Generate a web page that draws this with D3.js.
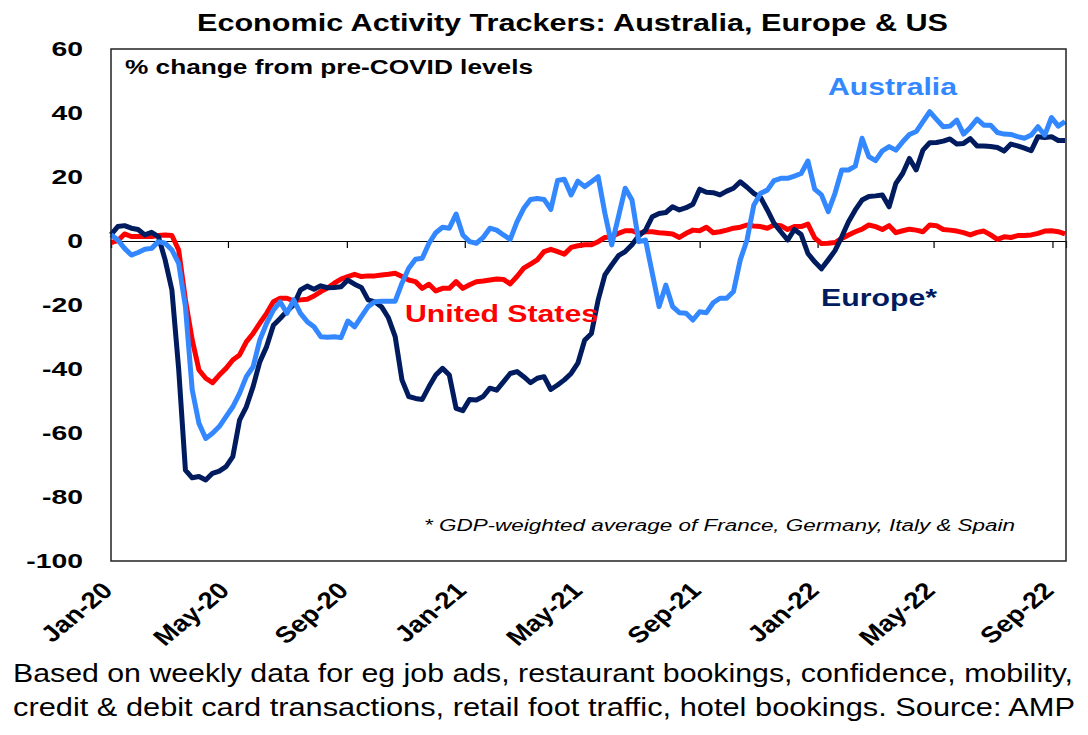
<!DOCTYPE html>
<html>
<head>
<meta charset="utf-8">
<script src="https://cdn.jsdelivr.net/npm/d3@7"></script>
<style>
  body { margin: 0; background: #fff; }
  svg { display: block; font-family: "Liberation Sans", Arial, sans-serif; }
</style>
</head>
<body>
<svg id="chart" width="1088" height="735"></svg>
<script>
// weekly readings, first week starting 1 Jan 2020
var firstWeek = new Date(2020, 0, 1);

var australia = [2, 0.3, -2.3, -4.4, -3.6, -2.6, -2.3, -0.2, -0.7, -2.8,
  -7, -20.5, -46.5, -57, -61.7, -60.1, -58, -54.9, -51.8, -47.6,
  -42.4, -39.3, -30.9, -25.7, -21.6, -19, -22.6, -18.4, -22.6, -25.2,
  -26.8, -29.9, -30.1, -29.9, -30.2, -25, -26.8, -23.6, -20.5, -19,
  -18.8, -18.8, -18.8, -13.2, -8.5, -5.7, -5.4, -0.7, 2.6, 4.3,
  4, 8.4, 1.9, -0.2, -0.7, 1.1, 4, 3.4, 1.9, 0.5,
  6, 10.2, 13, 13.3, 13, 9.9, 18.9, 19.3, 14.4, 18.7,
  17, 18.5, 20.1, 8.6, -1.2, 7.6, 16.5, 12.8, -0.2, 0.3,
  -10.1, -20.5, -13.8, -20.5, -22.4, -22.6, -24.7, -22.1, -22.4, -19.3,
  -17.9, -17.9, -15.8, -5.9, 0.3, 11.2, 14.9, 15.9, 18.9, 19.6,
  19.6, 20.3, 21.1, 25, 16.2, 14.4, 9.2, 14.9, 22.2, 22.2,
  23.4, 32.1, 26.4, 25.1, 28.2, 29.5, 28.4, 31, 33.3, 34.2,
  37.3, 40.4, 38, 35.7, 35.9, 37.8, 33.4, 35.5, 38.1, 36.2,
  36.2, 33.9, 33.4, 33.3, 32.6, 32.1, 33.1, 35.7, 33.1, 38.6,
  35.9, 37.3];

var europe = [2, 4.5, 4.8, 4, 3.6, 1.9, 2.7, 1.4, -5.9, -15.3,
  -40, -71.6, -74, -73.6, -74.7, -72.6, -71.9, -70.5, -67.4, -56,
  -51.8, -45.5, -37.7, -33, -26.3, -24.2, -21.9, -20, -15.3, -14.1,
  -15.1, -14, -14.6, -14.5, -14.3, -12.2, -13.5, -14.5, -18.4, -19,
  -20.6, -24, -29.9, -43.4, -48.6, -49.2, -49.5, -45.5, -41.9, -39.8,
  -41.9, -52.3, -53, -49.5, -49.7, -48.6, -46, -46.6, -44, -41.4,
  -40.8, -42.4, -44.3, -42.9, -42.4, -46.4, -45, -43.4, -41.4, -38.2,
  -31, -28.9, -18.4, -10.6, -7.5, -4.6, -3.3, -1.2, 1.6, 3.4,
  7.6, 8.6, 8.9, 10.7, 9.7, 10.4, 11.5, 16.2, 15.2, 15.1,
  14.4, 15.6, 16.5, 18.5, 16.8, 14.9, 13.6, 9.7, 5.5, 2.9,
  0.3, 3.6, 2, -3.9, -6.5, -8.7, -5.9, -3, 1.3, 6,
  9.7, 12.8, 13.9, 14.1, 14.4, 10.7, 18, 21.1, 25.8, 22.2,
  28.4, 30.7, 30.8, 31.2, 31.9, 30.3, 30.5, 32, 29.7, 29.7,
  29.5, 29.2, 28.1, 30.3, 29.7, 29, 28.2, 32.6, 32.3, 32.6,
  31.4, 31.4];

var unitedStates = [-0.5, 0.1, 2.2, 1.4, 1.4, 1.4, 1.4, 1.7, 1.9, 1.7,
  -2.8, -18.4, -30.9, -40.3, -42.9, -44.3, -41.9, -39.8, -37.2, -35.6,
  -31.5, -28.9, -25.7, -22.6, -19, -17.9, -17.9, -18.7, -18.4, -18.2,
  -17.2, -15.8, -14.7, -13.2, -11.9, -11.1, -10.4, -11.1, -10.9, -10.9,
  -10.6, -10.4, -10.1, -11.1, -12.2, -12.7, -14.8, -13.5, -15.6, -14.8,
  -14.8, -12.7, -14.8, -13.7, -12.7, -12.5, -12.2, -11.9, -12, -13.4,
  -11.1, -8.5, -7.2, -5.9, -3.3, -2.6, -3.3, -4.1, -2, -1.5,
  -1.2, -1.2, -0.2, 1.1, 1.3, 2.4, 3.2, 3.2, 2.4, 2.9,
  2.9, 2.6, 2.4, 2.2, 1.1, 2.4, 3.4, 3.2, 4.3, 2.6,
  2.9, 3.4, 4, 4.3, 5, 4.7, 4.5, 4, 5, 4.8,
  3.6, 4.5, 4.5, 5.3, 1, -0.8, -0.7, -0.5, 0.8, 1.9,
  2.9, 3.7, 5, 4.5, 3.6, 4.8, 2.6, 3.2, 3.7, 3.4,
  2.9, 5, 4.8, 3.6, 3.4, 3.1, 2.6, 1.9, 2.7, 3.1,
  1.9, 0.5, 1.3, 1.1, 1.7, 1.7, 1.9, 2.4, 3.1, 3.2,
  2.9, 2.2];

var yTicks = [60, 40, 20, 0, -20, -40, -60, -80, -100];
var xTicks = ["2020-01-01", "2020-05-01", "2020-09-01", "2021-01-01", "2021-05-01",
  "2021-09-01", "2022-01-01", "2022-05-01", "2022-09-01"];

var weeks = d3.range(australia.length).map(function (i) {
    return d3.timeDay.offset(firstWeek, 7 * i);
});

var svg = d3.select("#chart");
var plotLeft = 111, plotRight = 1066, plotTop = 49, plotBottom = 561;

var x = d3.scaleTime()
    .domain([firstWeek, new Date(2022, 8, 15)])
    .range([plotLeft, plotRight]);
var y = d3.scaleLinear().domain([-100, 60]).range([plotBottom, plotTop]);
var parse = d3.timeParse("%Y-%m-%d");
var fmt = d3.timeFormat("%b-%y");

// title
svg.append("text")
    .attr("x", 197).attr("y", 30.5)
    .attr("font-size", 23).attr("font-weight", "bold")
    .attr("textLength", 751).attr("lengthAdjust", "spacingAndGlyphs")
    .text("Economic Activity Trackers: Australia, Europe & US");

// y labels (stretched sideways like the original)
svg.append("g")
    .attr("transform", "translate(83,0) scale(1.35,1)")
    .selectAll("text")
    .data(yTicks)
    .join("text")
    .attr("x", 0)
    .attr("y", function (d) { return y(d) + 7.5; })
    .attr("text-anchor", "end")
    .attr("font-size", 21).attr("font-weight", "bold")
    .text(function (d) { return d; });

// zero line with ticks
var zeroAxis = d3.axisBottom(x)
    .tickValues(xTicks.map(parse))
    .tickSize(7)
    .tickFormat("");
var za = svg.append("g")
    .attr("transform", "translate(0," + y(0) + ")")
    .call(zeroAxis);
za.select(".domain").attr("stroke", "#000").attr("stroke-width", 1.2);
za.selectAll(".tick line").attr("stroke", "#000").attr("stroke-width", 1.2);

// x labels
svg.append("g").selectAll("text")
    .data(xTicks.map(parse))
    .join("text")
    .attr("text-anchor", "end")
    .attr("font-size", 23).attr("font-weight", "bold")
    .attr("transform", function (d) {
        return "translate(" + (x(d) + 3) + ",592) scale(1.2,1) rotate(-45)";
    })
    .text(function (d) { return fmt(d); });

// series
var line = d3.line()
    .x(function (d, i) { return x(weeks[i]); })
    .y(function (d) { return y(d); });

var series = [
    { values: unitedStates, color: "#FF0000" },
    { values: europe, color: "#001C5F" },
    { values: australia, color: "#3388FF" }
];
svg.append("g").selectAll("path")
    .data(series)
    .join("path")
    .attr("d", function (s) { return line(s.values); })
    .attr("fill", "none")
    .attr("stroke", function (s) { return s.color; })
    .attr("stroke-width", 5)
    .attr("stroke-linejoin", "round");

// frame
svg.append("rect")
    .attr("x", plotLeft).attr("y", plotTop)
    .attr("width", plotRight - plotLeft).attr("height", plotBottom - plotTop)
    .attr("fill", "none").attr("stroke", "#222").attr("stroke-width", 1.5);

// labels in plot
svg.append("text")
    .attr("x", 125).attr("y", 74)
    .attr("font-size", 20).attr("font-weight", "bold")
    .attr("textLength", 408).attr("lengthAdjust", "spacingAndGlyphs")
    .text("% change from pre-COVID levels");

svg.append("text")
    .attr("x", 828).attr("y", 95)
    .attr("font-size", 24).attr("font-weight", "bold").attr("fill", "#3388FF")
    .attr("textLength", 129).attr("lengthAdjust", "spacingAndGlyphs")
    .text("Australia");

svg.append("text")
    .attr("x", 405).attr("y", 322)
    .attr("font-size", 24).attr("font-weight", "bold").attr("fill", "#FF0000")
    .attr("textLength", 193).attr("lengthAdjust", "spacingAndGlyphs")
    .text("United States");

svg.append("text")
    .attr("x", 821).attr("y", 306)
    .attr("font-size", 24).attr("font-weight", "bold").attr("fill", "#001C5F")
    .attr("textLength", 116).attr("lengthAdjust", "spacingAndGlyphs")
    .text("Europe*");

svg.append("text")
    .attr("x", 424).attr("y", 531)
    .attr("font-size", 16).attr("font-style", "italic")
    .attr("textLength", 591).attr("lengthAdjust", "spacingAndGlyphs")
    .text("* GDP-weighted average of France, Germany, Italy & Spain");

// footer
svg.append("text")
    .attr("x", 13).attr("y", 682)
    .attr("font-size", 26)
    .attr("textLength", 1060).attr("lengthAdjust", "spacingAndGlyphs")
    .text("Based on weekly data for eg job ads, restaurant bookings, confidence, mobility,");
svg.append("text")
    .attr("x", 13).attr("y", 716)
    .attr("font-size", 26)
    .attr("textLength", 1062).attr("lengthAdjust", "spacingAndGlyphs")
    .text("credit & debit card transactions, retail foot traffic, hotel bookings. Source: AMP");
</script>
</body>
</html>
